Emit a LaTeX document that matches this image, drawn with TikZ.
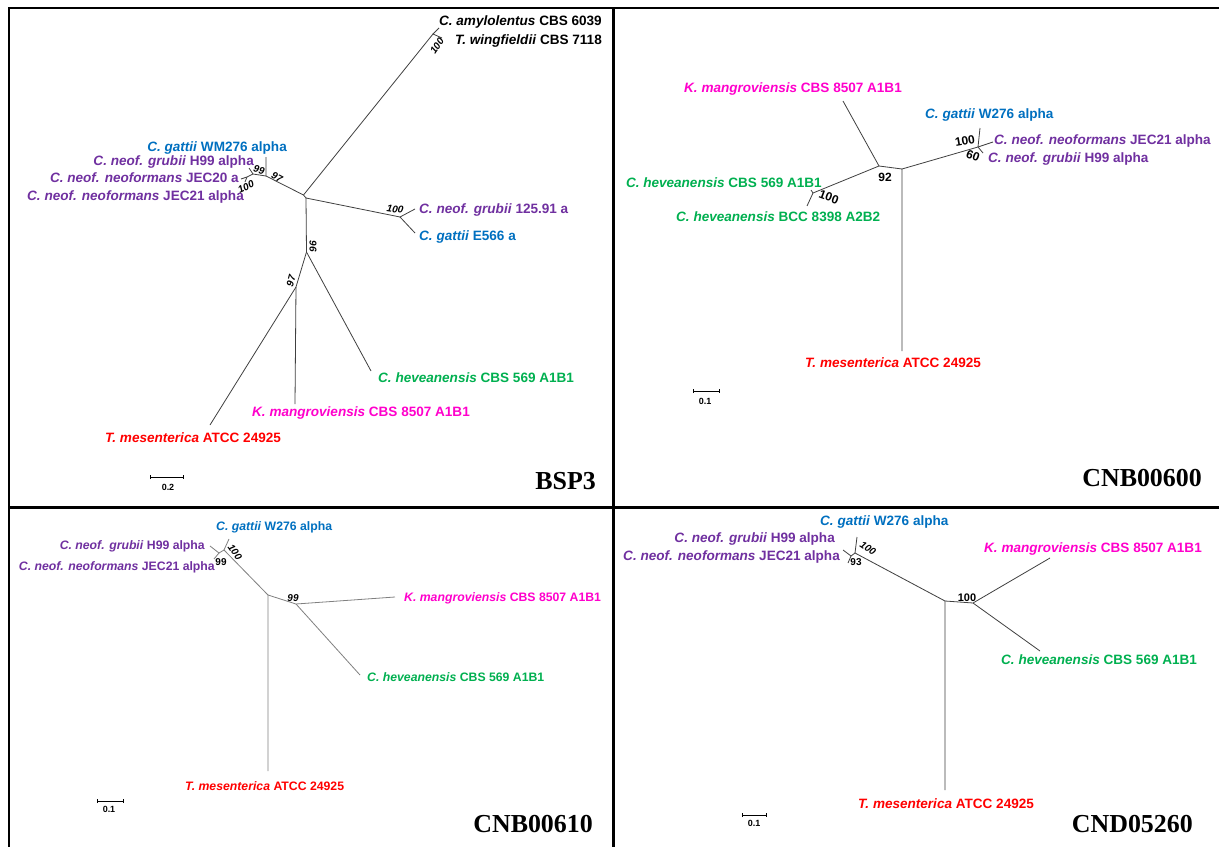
\documentclass[tikz,border=0pt]{standalone}
\usepackage{fontspec}
\setmainfont{Liberation Serif}
\setsansfont{Liberation Sans}
\usetikzlibrary{arrows.meta,positioning}
\definecolor{cgat}{HTML}{0070C0}
\definecolor{cneo}{HTML}{7030A0}
\definecolor{chev}{HTML}{00B050}
\definecolor{ckman}{HTML}{FF00CC}
\definecolor{ctmes}{HTML}{FF0000}
\newcommand{\taxon}[2]{\textit{#1} #2}

\begin{document}
\begin{tikzpicture}[
		x=1bp, y=-1bp,
		every node/.style={inner sep=0pt},
		lbl/.style={font=\sffamily\bfseries\fontsize{13.6}{16}\selectfont,
				text height=9.8bp, text depth=0pt},
		lblsm/.style={font=\sffamily\bfseries\fontsize{12.3}{14}\selectfont,
				text height=8.8bp, text depth=0pt},
		boot/.style={font=\sffamily\bfseries\itshape\fontsize{10}{12}\selectfont},
		bootup/.style={font=\sffamily\bfseries\fontsize{12}{14}\selectfont},
		branch/.style={draw=black!75, line width=0.8bp},
		branchgr/.style={draw=black!50, line width=0.8bp},
		frame/.style={line width=2.5bp},
		genename/.style={font=\rmfamily\bfseries\fontsize{26}{28}\selectfont,
				anchor=east, text height=17bp, text depth=0pt},
		sbar/.style={line width=0.8bp, {Bar[width=4bp]}-{Bar[width=4bp]}},
		sbarlbl/.style={font=\sffamily\bfseries\fontsize{9}{10}\selectfont},
		]

		\useasboundingbox[fill=white] (0,0) rectangle (1219,847);
		\draw[frame] (8,8) -- (1219,8);
		\draw[frame] (9,8) -- (9,847);
		\draw[frame] (613.5,8) -- (613.5,847);
		\draw[frame] (9,507.5) -- (1219,507.5);

		% BSP3
		\coordinate (b-r1) at (303.5,195);
		\coordinate (b-r2) at (306,198);
		\coordinate (b-amw) at (433,34);
		\coordinate (b-amy) at (439,28);
		\coordinate (b-wng) at (442,38);
		\coordinate (b-cl) at (266,176);
		\coordinate (b-gat) at (266,157);
		\coordinate (b-n99) at (253,174);
		\coordinate (b-h99) at (249,168);
		\coordinate (b-n100) at (247,177);
		\coordinate (b-jec20) at (241,179);
		\coordinate (b-jec21) at (245,182);
		\coordinate (b-gru) at (400,217);
		\coordinate (b-125) at (415,209);
		\coordinate (b-e566) at (415,233);
		\coordinate (b-n96) at (306.5,252);
		\coordinate (b-hev) at (371,371);
		\coordinate (b-n97) at (296,287);
		\coordinate (b-kman) at (295,404);
		\coordinate (b-tmes) at (210,425);

		\draw[branch] (b-amy) -- (b-amw) -- (b-wng);
		\draw[branch] (b-amw) -- (b-r1) -- (b-r2);
		\draw[branch] (b-r1) -- (b-cl) -- (b-gat);
		\draw[branch] (b-cl) -- (b-n99) -- (b-h99);
		\draw[branch] (b-n99) -- (b-n100) -- (b-jec20);
		\draw[branch] (b-n100) -- (b-jec21);
		\draw[branch] (b-r2) -- (b-gru) -- (b-125);
		\draw[branch] (b-gru) -- (b-e566);
		\draw[branch] (b-r2) -- (b-n96) -- (b-hev);
		\draw[branch] (b-n96) -- (b-n97) -- (b-kman);
		\draw[branch] (b-n97) -- (b-tmes);

		\node[lbl, anchor=east] (l-amy) at (602,21) {\taxon{C. amylolentus}{CBS 6039}};
		\node[lbl, anchor=east] (l-wng) at (602,40) {\taxon{T. wingfieldii}{CBS 7118}};
		\node[lbl, anchor=east, text=cgat] (l-gat) at (287,147) {\taxon{C. gattii}{WM276 alpha}};
		\node[lbl, anchor=east, text=cneo] (l-h99) at (254,161) {\taxon{C. neof. grubii}{H99 alpha}};
		\node[lbl, anchor=east, text=cneo] (l-jec20) at (239,178) {\taxon{C. neof. neoformans}{JEC20 a}};
		\node[lbl, anchor=east, text=cneo] (l-jec21) at (244,196) {\taxon{C. neof. neoformans}{JEC21 alpha}};
		\node[lbl, anchor=west, text=cneo] (l-125) at (419,209) {\taxon{C. neof. grubii}{125.91 a}};
		\node[lbl, anchor=west, text=cgat] (l-e566) at (419,236) {\taxon{C. gattii}{E566 a}};
		\node[lbl, anchor=west, text=chev] (l-hev) at (378,378) {\taxon{C. heveanensis}{CBS 569 A1B1}};
		\node[lbl, anchor=west, text=ckman] (l-kman) at (252,412) {\taxon{K. mangroviensis}{CBS 8507 A1B1}};
		\node[lbl, anchor=west, text=ctmes] (l-tmes) at (105,438) {\taxon{T. mesenterica}{ATCC 24925}};

		\node[boot, rotate=55] (s-amw) at (437,46) {100};
		\node[boot, rotate=-15] (s-n99) at (259,170) {99};
		\node[boot, rotate=-28] (s-cl) at (277,177) {97};
		\node[boot, rotate=25] (s-n100) at (246,187) {100};
		\node[boot, rotate=-8] (s-gru) at (395,209) {100};
		\node[boot, rotate=-90] (s-n96) at (313,246) {96};
		\node[boot, rotate=75] (s-n97) at (291,281) {97};

		\draw[sbar] (150,477) -- (184,477);
		\node[sbarlbl] (k-b) at (168,487) {0.2};
		\node[genename] (g-b) at (596,481) {BSP3};

		% CNB00600
		\coordinate (c-m92) at (879,166);
		\coordinate (c-kman) at (843,101);
		\coordinate (c-r) at (902,169);
		\coordinate (c-tmes) at (902,351);
		\coordinate (c-cl) at (978,147);
		\coordinate (c-gat) at (980,128);
		\coordinate (c-jec) at (993,142);
		\coordinate (c-h99) at (983,153);
		\coordinate (c-hv) at (813,193);
		\coordinate (c-hva) at (811,190);
		\coordinate (c-hvb) at (807,206);

		\draw[branch] (c-kman) -- (c-m92) -- (c-r) -- (c-tmes);
		\draw[branch] (c-r) -- (c-cl) -- (c-gat);
		\draw[branch] (c-cl) -- (c-jec);
		\draw[branch] (c-cl) -- (c-h99);
		\draw[branch] (c-m92) -- (c-hv) -- (c-hva);
		\draw[branch] (c-hv) -- (c-hvb);

		\node[lbl, anchor=west, text=ckman] (m-kman) at (684,88) {\taxon{K. mangroviensis}{CBS 8507 A1B1}};
		\node[lbl, anchor=west, text=cgat] (m-gat) at (925,114) {\taxon{C. gattii}{W276 alpha}};
		\node[lbl, anchor=west, text=cneo] (m-jec) at (994,140) {\taxon{C. neof. neoformans}{JEC21 alpha}};
		\node[lbl, anchor=west, text=cneo] (m-h99) at (988,158) {\taxon{C. neof. grubii}{H99 alpha}};
		\node[lbl, anchor=east, text=chev] (m-hva) at (822,183) {\taxon{C. heveanensis}{CBS 569 A1B1}};
		\node[lbl, anchor=west, text=chev] (m-hvb) at (676,217) {\taxon{C. heveanensis}{BCC 8398 A2B2}};
		\node[lbl, anchor=west, text=ctmes] (m-tmes) at (805,363) {\taxon{T. mesenterica}{ATCC 24925}};

		\node[bootup] (s-m92) at (885,177) {92};
		\node[bootup, rotate=-20] (s-hv) at (829,197) {100};
		\node[bootup, rotate=10] (s-cl2) at (965,141) {100};
		\node[bootup, rotate=-20] (s-h99) at (973,156) {60};

		\draw[sbar] (693,391) -- (720,391);
		\node[sbarlbl] (k-c) at (705,401) {0.1};
		\node[genename] (g-c) at (1202,478) {CNB00600};

		% CNB00610
		\coordinate (d-cl) at (224,550);
		\coordinate (d-gat) at (229,539);
		\coordinate (d-n99) at (219,553);
		\coordinate (d-h99) at (210,546);
		\coordinate (d-jec) at (214,559);
		\coordinate (d-r) at (268,595);
		\coordinate (d-tmes) at (268,771);
		\coordinate (d-n99b) at (296,604);
		\coordinate (d-kman) at (395,597);
		\coordinate (d-hev) at (360,675);

		\draw[branchgr] (d-gat) -- (d-cl) -- (d-r) -- (d-tmes);
		\draw[branchgr] (d-cl) -- (d-n99) -- (d-h99);
		\draw[branchgr] (d-n99) -- (d-jec);
		\draw[branchgr] (d-r) -- (d-n99b) -- (d-kman);
		\draw[branchgr] (d-n99b) -- (d-hev);

		\node[lblsm, anchor=west, text=cgat] (n-gat) at (216,526) {\taxon{C. gattii}{W276 alpha}};
		\node[lblsm, anchor=east, text=cneo] (n-h99) at (205,545) {\taxon{C. neof. grubii}{H99 alpha}};
		\node[lblsm, anchor=east, text=cneo] (n-jec) at (215,566) {\taxon{C. neof. neoformans}{JEC21 alpha}};
		\node[lblsm, anchor=west, text=ckman] (n-kman) at (404,597) {\taxon{K. mangroviensis}{CBS 8507 A1B1}};
		\node[lblsm, anchor=west, text=chev] (n-hev) at (367,677) {\taxon{C. heveanensis}{CBS 569 A1B1}};
		\node[lblsm, anchor=west, text=ctmes] (n-tmes) at (185,786) {\taxon{T. mesenterica}{ATCC 24925}};

		\node[boot, rotate=-55] (s-dcl) at (235,552) {100};
		\node[bootup, font=\sffamily\bfseries\fontsize{10}{12}\selectfont] (s-dn99) at (221,562) {99};
		\node[boot] (s-dn99b) at (293,598) {99};

		\draw[sbar] (97,801) -- (124,801);
		\node[sbarlbl] (k-d) at (109,809) {0.1};
		\node[genename] (g-d) at (593,824) {CNB00610};

		% CND05260
		\coordinate (e-cl) at (855,553);
		\coordinate (e-gat) at (857,537);
		\coordinate (e-n93) at (851,556);
		\coordinate (e-h99) at (843,550);
		\coordinate (e-jec) at (848,563);
		\coordinate (e-r) at (945,601);
		\coordinate (e-tmes) at (945,790);
		\coordinate (e-n100) at (973,603);
		\coordinate (e-kman) at (1050,558);
		\coordinate (e-hev) at (1040,651);

		\draw[branch] (e-gat) -- (e-cl) -- (e-r) -- (e-tmes);
		\draw[branch] (e-cl) -- (e-n93) -- (e-h99);
		\draw[branch] (e-n93) -- (e-jec);
		\draw[branch] (e-r) -- (e-n100) -- (e-kman);
		\draw[branch] (e-n100) -- (e-hev);

		\node[lbl, anchor=west, text=cgat] (o-gat) at (820,521) {\taxon{C. gattii}{W276 alpha}};
		\node[lbl, anchor=east, text=cneo] (o-h99) at (835,538) {\taxon{C. neof. grubii}{H99 alpha}};
		\node[lbl, anchor=east, text=cneo] (o-jec) at (840,556) {\taxon{C. neof. neoformans}{JEC21 alpha}};
		\node[lbl, anchor=west, text=ckman] (o-kman) at (984,548) {\taxon{K. mangroviensis}{CBS 8507 A1B1}};
		\node[lbl, anchor=west, text=chev] (o-hev) at (1001,660) {\taxon{C. heveanensis}{CBS 569 A1B1}};
		\node[lbl, anchor=west, text=ctmes] (o-tmes) at (858,804) {\taxon{T. mesenterica}{ATCC 24925}};

		\node[boot, rotate=-35] (s-ecl) at (868,548) {100};
		\node[bootup, font=\sffamily\bfseries\fontsize{10}{12}\selectfont] (s-en93) at (856,562) {93};
		\node[bootup, font=\sffamily\bfseries\fontsize{11}{12}\selectfont] (s-en100) at (967,598) {100};

		\draw[sbar] (742,815) -- (767,815);
		\node[sbarlbl] (k-e) at (754,823) {0.1};
		\node[genename] (g-e) at (1193,824) {CND05260};

	\end{tikzpicture}
\end{document}
